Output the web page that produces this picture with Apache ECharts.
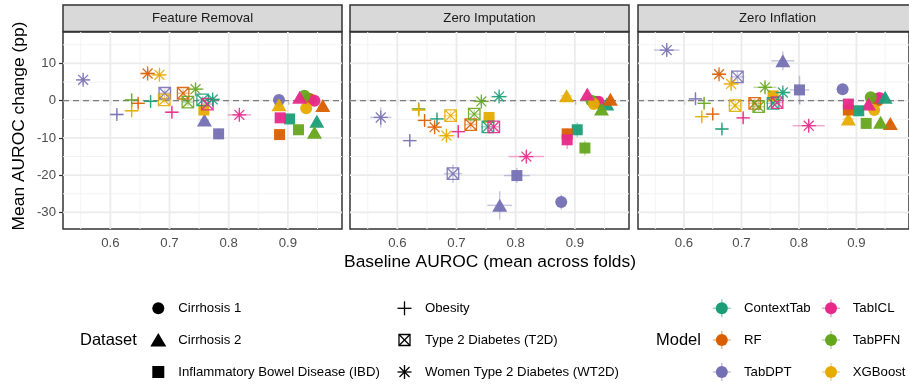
<!DOCTYPE html>
<html><head><meta charset="utf-8">
<script src="https://cdn.jsdelivr.net/npm/echarts@6/dist/echarts.min.js"></script>
<style>html,body{margin:0;padding:0;background:#fff}#c{width:909px;height:386px}</style>
</head><body><div id="c"></div>
<script>
// ---------- categories ----------
const models = ['ContextTab', 'RF', 'TabDPT', 'TabICL', 'TabPFN', 'XGBoost'];
const modelColors = ['#1B9E77', '#D95F02', '#7570B3', '#E7298A', '#66A61E', '#E6AB02'];
const datasets = ['Cirrhosis 1', 'Cirrhosis 2', 'Inflammatory Bowel Disease (IBD)', 'Obesity', 'Type 2 Diabetes (T2D)', 'Women Type 2 Diabetes (WT2D)'];
const panels = ['Feature Removal', 'Zero Imputation', 'Zero Inflation'];
const xTicks = [0.6, 0.7, 0.8, 0.9];
const xMinor = [0.55, 0.65, 0.75, 0.85, 0.95];
const yTicks = [-30, -20, -10, 0, 10];
const yMinor = [-25, -15, -5, 5, 15];

// rows = models, columns = datasets (C1, C2, IBD, Obesity, T2D, WT2D)
// ---------- Feature Removal ----------
const frBase = [
  [0.935, 0.949, 0.903, 0.668, 0.756, 0.773],
  [0.938, 0.959, 0.886, 0.647, 0.723, 0.663],
  [0.885, 0.759, 0.783, 0.611, 0.692, 0.554],
  [0.945, 0.920, 0.887, 0.704, 0.764, 0.818],
  [0.928, 0.945, 0.918, 0.636, 0.731, 0.744],
  [0.931, 0.885, 0.758, 0.636, 0.691, 0.683]
];
const frChange = [
  [0.5, -5.5, -4.9, -0.2, 0.2, 0.35],
  [0.4, -1.3, -9.1, -0.7, 2.0, 7.3],
  [0.2, -5.2, -8.9, -3.7, 2.0, 5.6],
  [0.0, 0.9, -4.6, -3.1, -0.9, -3.8],
  [1.3, -8.5, -7.8, 0.2, -0.4, 3.1],
  [-2.0, -1.1, -2.5, -2.7, 0.2, 6.95]
];
const frBaseErr = [
  [0.006, 0.006, 0.006, 0.010, 0.010, 0.012],
  [0.006, 0.006, 0.006, 0.012, 0.010, 0.012],
  [0.006, 0.008, 0.008, 0.012, 0.010, 0.012],
  [0.006, 0.006, 0.006, 0.012, 0.010, 0.020],
  [0.006, 0.006, 0.006, 0.012, 0.010, 0.014],
  [0.006, 0.008, 0.008, 0.012, 0.010, 0.012]
];
const frChangeErr = [
  [0.8, 1.0, 1.0, 1.5, 1.0, 1.2],
  [0.8, 1.0, 1.0, 1.2, 1.0, 1.2],
  [0.8, 1.5, 1.5, 1.2, 1.0, 1.2],
  [0.8, 1.0, 1.0, 1.5, 1.0, 1.2],
  [0.8, 1.5, 1.0, 1.8, 1.0, 1.5],
  [0.8, 1.0, 1.0, 1.5, 1.0, 1.2]
];
// ---------- Zero Imputation ----------
const ziBase = [
  [0.935, 0.954, 0.904, 0.667, 0.753, 0.772],
  [0.938, 0.960, 0.887, 0.646, 0.724, 0.663],
  [0.877, 0.773, 0.802, 0.621, 0.694, 0.572],
  [0.940, 0.921, 0.887, 0.703, 0.763, 0.818],
  [0.928, 0.945, 0.917, 0.636, 0.730, 0.742],
  [0.932, 0.886, 0.755, 0.636, 0.690, 0.683]
];
const ziChange = [
  [-0.3, -0.9, -7.8, -4.9, -7.0, 1.1],
  [-0.5, 0.4, -8.9, -5.3, -6.4, -7.1],
  [-27.2, -28.1, -20.1, -10.7, -19.6, -4.5],
  [-0.3, 1.8, -10.5, -8.3, -7.0, -15.0],
  [0.0, -2.2, -12.7, -2.2, -3.6, -0.2],
  [-0.9, 1.3, -4.5, -2.5, -4.0, -9.4]
];
const ziBaseErr = [
  [0.006, 0.006, 0.008, 0.012, 0.012, 0.014],
  [0.006, 0.006, 0.006, 0.012, 0.010, 0.012],
  [0.010, 0.021, 0.022, 0.012, 0.015, 0.018],
  [0.006, 0.006, 0.006, 0.012, 0.010, 0.030],
  [0.006, 0.006, 0.006, 0.012, 0.010, 0.014],
  [0.006, 0.010, 0.010, 0.012, 0.012, 0.014]
];
const ziChangeErr = [
  [0.8, 1.0, 2.0, 1.5, 1.2, 1.2],
  [0.8, 1.0, 1.5, 1.5, 1.2, 1.2],
  [2.0, 3.8, 2.0, 1.5, 2.5, 2.7],
  [0.8, 1.0, 2.5, 1.5, 1.2, 1.5],
  [0.8, 1.5, 2.0, 1.5, 1.2, 1.2],
  [0.8, 1.0, 1.5, 1.5, 1.2, 1.5]
];
// ---------- Zero Inflation ----------
const zfBase = [
  [0.935, 0.950, 0.904, 0.666, 0.755, 0.772],
  [0.937, 0.959, 0.886, 0.650, 0.723, 0.661],
  [0.876, 0.772, 0.801, 0.620, 0.693, 0.570],
  [0.940, 0.921, 0.886, 0.703, 0.762, 0.817],
  [0.925, 0.942, 0.917, 0.635, 0.730, 0.741],
  [0.931, 0.886, 0.755, 0.631, 0.689, 0.682]
];
const zfChange = [
  [0.4, 0.9, -2.7, -7.6, -0.7, 2.2],
  [0.0, -6.1, -2.5, -3.6, -0.7, 7.1],
  [3.1, 10.7, 2.9, 0.5, 6.4, 13.6],
  [0.7, -0.9, -0.9, -4.6, -0.5, -6.7],
  [0.9, -5.8, -6.1, -0.7, -1.6, 3.6],
  [-2.5, -4.9, 1.3, -4.3, -1.3, 4.5]
];
const zfBaseErr = [
  [0.006, 0.006, 0.008, 0.012, 0.012, 0.014],
  [0.006, 0.006, 0.006, 0.012, 0.010, 0.012],
  [0.010, 0.020, 0.017, 0.012, 0.012, 0.022],
  [0.006, 0.006, 0.006, 0.012, 0.010, 0.028],
  [0.006, 0.006, 0.006, 0.012, 0.010, 0.020],
  [0.006, 0.010, 0.010, 0.012, 0.012, 0.014]
];
const zfChangeErr = [
  [0.8, 1.0, 1.2, 1.5, 1.2, 1.2],
  [0.8, 1.0, 1.2, 1.5, 1.2, 1.2],
  [1.2, 2.5, 3.8, 1.5, 1.5, 1.5],
  [0.8, 1.0, 1.2, 1.5, 1.2, 1.5],
  [0.8, 1.2, 1.2, 1.5, 1.2, 1.5],
  [0.8, 1.0, 1.2, 1.5, 1.2, 1.5]
];

const panelData = [
  { base: frBase, change: frChange, bErr: frBaseErr, cErr: frChangeErr },
  { base: ziBase, change: ziChange, bErr: ziBaseErr, cErr: ziChangeErr },
  { base: zfBase, change: zfChange, bErr: zfBaseErr, cErr: zfChangeErr }
];

// ---------- styling ----------
const FONT = '"Liberation Sans", Arial, Helvetica, sans-serif';
const gridLeft = [63, 350, 638], gridTop = 32, gridW = 279, gridH = 197;
const xMin = 0.52, xMax = 0.9915, yMin = -34.45, yMax = 18.45;
const PLUS = 'path://M0,-1L0,1M-1,0L1,0';
const SQX = 'path://M-1,-1L1,-1L1,1L-1,1Z M-1,-1L1,1 M1,-1L-1,1';
const AST = 'path://M0,-1L0,1M-1,0L1,0M-0.7071,-0.7071L0.7071,0.7071M0.7071,-0.7071L-0.7071,0.7071';
const dsSymbol = [
  { s: 'circle', size: 12, fill: true },
  { s: 'triangle', size: [15, 13], fill: true },
  { s: 'rect', size: 11, fill: true },
  { s: PLUS, size: 13, fill: false },
  { s: SQX, size: 11.5, fill: false },
  { s: AST, size: 14, fill: false }
];

const chart = echarts.init(document.getElementById('c'), null, { renderer: 'canvas' });

const grids = [], xAxes = [], yAxes = [], series = [], graphics = [];
panels.forEach((p, i) => {
  grids.push({ left: gridLeft[i], top: gridTop, width: gridW, height: gridH, show: true,
    borderColor: '#333333', borderWidth: 1.5, backgroundColor: '#ffffff', containLabel: false });
  xAxes.push({ type: 'value', gridIndex: i, min: xMin, max: xMax,
    axisLine: { show: false }, splitLine: { show: false },
    axisTick: { show: true, customValues: xTicks, length: 4, lineStyle: { color: '#333333', width: 1.2 } },
    axisLabel: { show: true, customValues: xTicks, formatter: v => v.toFixed(1), margin: 8,
      fontSize: 13.2, color: '#4D4D4D', fontFamily: FONT } });
  yAxes.push({ type: 'value', gridIndex: i, min: yMin, max: yMax,
    axisLine: { show: false }, splitLine: { show: false },
    axisTick: { show: i === 0, customValues: yTicks, length: 4, lineStyle: { color: '#333333', width: 1.2 } },
    axisLabel: { show: i === 0, customValues: yTicks, margin: 7,
      fontSize: 13.2, color: '#4D4D4D', fontFamily: FONT } });

  // grid lines + zero line
  const gl = [];
  xMinor.forEach(v => gl.push([v, 0, 0, 0]));
  yMinor.forEach(v => gl.push([0.7, v, 1, 0]));
  xTicks.forEach(v => gl.push([v, 0, 0, 1]));
  yTicks.forEach(v => gl.push([0.7, v, 1, 1]));
  gl.push([0.7, 0, 2, 1]);
  series.push({
    type: 'custom', xAxisIndex: i, yAxisIndex: i, data: gl, encode: { x: 0, y: 1 }, silent: true, z: 1,
    renderItem: (params, api) => {
      const cs = params.coordSys;
      const o = api.value(2), major = api.value(3);
      if (o === 0) {
        const pt = api.coord([api.value(0), 0]);
        return { type: 'line', shape: { x1: pt[0], y1: cs.y, x2: pt[0], y2: cs.y + cs.height },
          style: { stroke: major ? '#EBEBEB' : '#F3F3F3', lineWidth: major ? 1.8 : 1 } };
      }
      const pt = api.coord([0.7, api.value(1)]);
      if (o === 1) {
        return { type: 'line', shape: { x1: cs.x, y1: pt[1], x2: cs.x + cs.width, y2: pt[1] },
          style: { stroke: major ? '#EBEBEB' : '#F3F3F3', lineWidth: major ? 1.8 : 1 } };
      }
      return { type: 'line', shape: { x1: cs.x, y1: pt[1], x2: cs.x + cs.width, y2: pt[1] },
        style: { stroke: '#7F7F7F', lineWidth: 1.3, lineDash: [6, 4] }, z2: 5 };
    }
  });

  // error bars + points, ordered dataset-major
  const d = panelData[i];
  const eb = [], pts = [];
  datasets.forEach((ds, j) => {
    models.forEach((m, k) => {
      const x = d.base[k][j], y = d.change[k][j];
      eb.push([x, y, d.bErr[k][j], d.cErr[k][j], k]);
      const sym = dsSymbol[j], col = modelColors[k];
      pts.push({ value: [x, y], name: m + ' / ' + ds, symbol: sym.s, symbolSize: sym.size,
        itemStyle: sym.fill ? { color: col, opacity: 0.95 }
          : { color: 'rgba(0,0,0,0)', borderColor: col, borderWidth: 1.3, opacity: 0.9 } });
    });
  });
  series.push({
    type: 'custom', xAxisIndex: i, yAxisIndex: i, data: eb, encode: { x: 0, y: 1 }, silent: true, z: 2,
    renderItem: (params, api) => {
      const x = api.value(0), y = api.value(1), xe = api.value(2), ye = api.value(3);
      const c = modelColors[api.value(4)];
      const a = api.coord([x - xe, y]), b = api.coord([x + xe, y]);
      const c1 = api.coord([x, y - ye]), c2 = api.coord([x, y + ye]);
      return { type: 'group', children: [
        { type: 'line', shape: { x1: a[0], y1: a[1], x2: b[0], y2: b[1] }, style: { stroke: c, lineWidth: 1.5, opacity: 0.4 } },
        { type: 'line', shape: { x1: c1[0], y1: c1[1], x2: c2[0], y2: c2[1] }, style: { stroke: c, lineWidth: 1.5, opacity: 0.4 } }
      ] };
    }
  });
  series.push({ type: 'scatter', xAxisIndex: i, yAxisIndex: i, data: pts, z: 3, silent: true });

  // strip
  graphics.push({ type: 'rect', shape: { x: gridLeft[i], y: 5, width: gridW, height: 26.5 },
    style: { fill: '#D9D9D9', stroke: '#333333', lineWidth: 1.5 } });
  graphics.push({ type: 'text', x: gridLeft[i] + gridW / 2, y: 18.5,
    style: { text: p, fill: '#1A1A1A', font: '13.2px ' + FONT, textAlign: 'center', textVerticalAlign: 'middle' } });
});

// axis titles
graphics.push({ type: 'text', x: 490, y: 262,
  style: { text: 'Baseline AUROC (mean across folds)', fill: '#000', font: '17.4px ' + FONT, textAlign: 'center', textVerticalAlign: 'middle' } });
graphics.push({ type: 'text', x: 19, y: 126, rotation: Math.PI / 2,
  style: { text: 'Mean AUROC change (pp)', fill: '#000', font: '17.4px ' + FONT, textAlign: 'center', textVerticalAlign: 'middle' } });

// ---------- legends ----------
const rowsY = [308.3, 340, 372];
graphics.push({ type: 'text', x: 80, y: 340,
  style: { text: 'Dataset', fill: '#000', font: '16.5px ' + FONT, textAlign: 'left', textVerticalAlign: 'middle' } });
graphics.push({ type: 'text', x: 656, y: 340,
  style: { text: 'Model', fill: '#000', font: '16.5px ' + FONT, textAlign: 'left', textVerticalAlign: 'middle' } });

function dsKey(j, cx, cy) {
  const st = { stroke: '#000', lineWidth: 1.3, fill: 'none' };
  if (j === 0) return [{ type: 'circle', shape: { cx, cy, r: 6 }, style: { fill: '#000' } }];
  if (j === 1) return [{ type: 'polygon', shape: { points: [[cx, cy - 7], [cx - 8, cy + 6.5], [cx + 8, cy + 6.5]] }, style: { fill: '#000' } }];
  if (j === 2) return [{ type: 'rect', shape: { x: cx - 6, y: cy - 6, width: 12, height: 12 }, style: { fill: '#000' } }];
  if (j === 3) return [
    { type: 'line', shape: { x1: cx - 7, y1: cy, x2: cx + 7, y2: cy }, style: st },
    { type: 'line', shape: { x1: cx, y1: cy - 7, x2: cx, y2: cy + 7 }, style: st }];
  if (j === 4) return [
    { type: 'rect', shape: { x: cx - 5.5, y: cy - 5.5, width: 11, height: 11 }, style: st },
    { type: 'line', shape: { x1: cx - 5.5, y1: cy - 5.5, x2: cx + 5.5, y2: cy + 5.5 }, style: st },
    { type: 'line', shape: { x1: cx + 5.5, y1: cy - 5.5, x2: cx - 5.5, y2: cy + 5.5 }, style: st }];
  return [
    { type: 'line', shape: { x1: cx - 7, y1: cy, x2: cx + 7, y2: cy }, style: st },
    { type: 'line', shape: { x1: cx, y1: cy - 7, x2: cx, y2: cy + 7 }, style: st },
    { type: 'line', shape: { x1: cx - 5, y1: cy - 5, x2: cx + 5, y2: cy + 5 }, style: st },
    { type: 'line', shape: { x1: cx + 5, y1: cy - 5, x2: cx - 5, y2: cy + 5 }, style: st }];
}
datasets.forEach((ds, j) => {
  const col = Math.floor(j / 3), row = j % 3;
  const kx = col === 0 ? 158.3 : 404.5, tx = col === 0 ? 178.3 : 425;
  dsKey(j, kx, rowsY[row]).forEach(g => graphics.push(g));
  graphics.push({ type: 'text', x: tx, y: rowsY[row],
    style: { text: ds, fill: '#000', font: '13.2px ' + FONT, textAlign: 'left', textVerticalAlign: 'middle' } });
});
models.forEach((m, k) => {
  const col = Math.floor(k / 3), row = k % 3;
  const kx = col === 0 ? 721.8 : 831, tx = col === 0 ? 744 : 852.7, cy = rowsY[row];
  const c = modelColors[k];
  graphics.push({ type: 'line', shape: { x1: kx - 9, y1: cy, x2: kx + 9, y2: cy }, style: { stroke: c, lineWidth: 1.5, opacity: 0.45 } });
  graphics.push({ type: 'line', shape: { x1: kx, y1: cy - 9, x2: kx, y2: cy + 9 }, style: { stroke: c, lineWidth: 1.5, opacity: 0.45 } });
  graphics.push({ type: 'circle', shape: { cx: kx, cy, r: 6 }, style: { fill: c } });
  graphics.push({ type: 'text', x: tx, y: cy,
    style: { text: m, fill: '#000', font: '13.2px ' + FONT, textAlign: 'left', textVerticalAlign: 'middle' } });
});

chart.setOption({
  animation: false,
  backgroundColor: '#ffffff',
  textStyle: { fontFamily: FONT },
  grid: grids, xAxis: xAxes, yAxis: yAxes, series: series,
  graphic: { elements: graphics }
});
</script>
</body></html>
